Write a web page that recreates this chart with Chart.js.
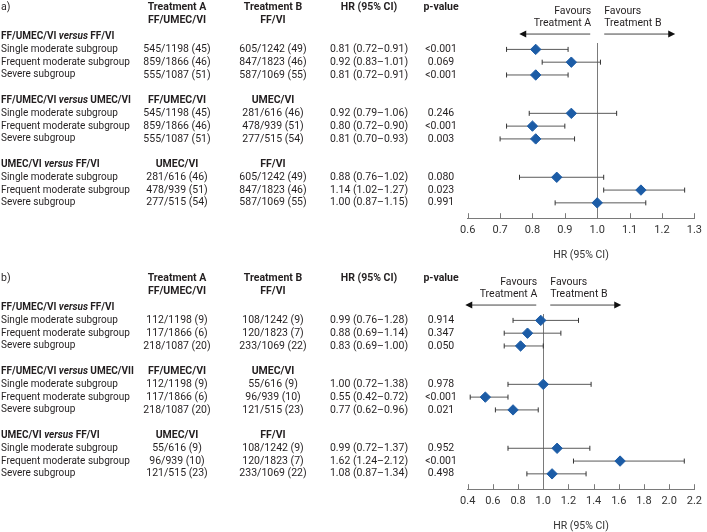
<!DOCTYPE html>
<html><head><meta charset="utf-8">
<script src="https://cdn.jsdelivr.net/npm/chart.js@4.4.0/dist/chart.umd.min.js"></script>
<style>
html,body{margin:0;padding:0;background:#fff;width:707px;height:532px;overflow:hidden;}
.panel{position:absolute;left:0;width:707px;}
</style></head><body>
<div class="panel" style="top:0;height:262px"><canvas id="ca"></canvas></div>
<div class="panel" style="top:271px;height:262px"><canvas id="cb"></canvas></div>
<script>
// ---------- data ----------
const subgroups = ["Single moderate subgroup", "Frequent moderate subgroup", "Severe subgroup"];
const compLeft = ["FF/UMEC/VI", "FF/UMEC/VI", "UMEC/VI"];
const compRightA = ["FF/VI", "UMEC/VI", "FF/VI"];
const compRightB = ["FF/VI", "UMEC/VII", "FF/VI"];
const colHeadA = ["FF/UMEC/VI", "FF/UMEC/VI", "UMEC/VI"];
const colHeadB = ["FF/VI", "UMEC/VI", "FF/VI"];

// panel a
const nTrtA_a = ["545/1198 (45)", "859/1866 (46)", "555/1087 (51)", "545/1198 (45)", "859/1866 (46)", "555/1087 (51)", "281/616 (46)", "478/939 (51)", "277/515 (54)"];
const nTrtB_a = ["605/1242 (49)", "847/1823 (46)", "587/1069 (55)", "281/616 (46)", "478/939 (51)", "277/515 (54)", "605/1242 (49)", "847/1823 (46)", "587/1069 (55)"];
const hr_a = [0.81, 0.92, 0.81, 0.92, 0.80, 0.81, 0.88, 1.14, 1.00];
const lo_a = [0.72, 0.83, 0.72, 0.79, 0.72, 0.70, 0.76, 1.02, 0.87];
const hi_a = [0.91, 1.01, 0.91, 1.06, 0.90, 0.93, 1.02, 1.27, 1.15];
const p_a = ["<0.001", "0.069", "<0.001", "0.246", "<0.001", "0.003", "0.080", "0.023", "0.991"];
const marker_a = [0.81, 0.92, 0.81, 0.92, 0.80, 0.81, 0.875, 1.135, 1.00];
const ticks_a = [0.6, 0.7, 0.8, 0.9, 1.0, 1.1, 1.2, 1.3];

// panel b
const nTrtA_b = ["112/1198 (9)", "117/1866 (6)", "218/1087 (20)", "112/1198 (9)", "117/1866 (6)", "218/1087 (20)", "55/616 (9)", "96/939 (10)", "121/515 (23)"];
const nTrtB_b = ["108/1242 (9)", "120/1823 (7)", "233/1069 (22)", "55/616 (9)", "96/939 (10)", "121/515 (23)", "108/1242 (9)", "120/1823 (7)", "233/1069 (22)"];
const hr_b = [0.99, 0.88, 0.83, 1.00, 0.55, 0.77, 0.99, 1.62, 1.08];
const lo_b = [0.76, 0.69, 0.69, 0.72, 0.42, 0.62, 0.72, 1.24, 0.87];
const hi_b = [1.28, 1.14, 1.00, 1.38, 0.72, 0.96, 1.37, 2.12, 1.34];
const p_b = ["0.914", "0.347", "0.050", "0.978", "<0.001", "0.021", "0.952", "<0.001", "0.498"];
const marker_b = [0.98, 0.875, 0.82, 1.00, 0.54, 0.76, 1.11, 1.61, 1.07];
const ticks_b = [0.4, 0.6, 0.8, 1.0, 1.2, 1.4, 1.6, 1.8, 2.0, 2.2];

// ---------- styling ----------
const FONT = 'Roboto, "Open Sans", sans-serif';
const INK = '#231f20';
const FS = 10.5;       // table numbers / headers
const FSL = 10;        // left label column
const COL = { label: 1, a: 177, b: 273, hr: 369, p: 441 };
const DIAMOND = '#1c5ca6';
const BAR = '#5a5a5a';
const AXIS = '#7a7a7a';

function rowIndex(i) { return 1 + Math.floor(i / 3) * 5 + (i % 3); }
function fmt(v) { return v.toFixed(2); }

function font(weight, size, style) { return `${style || 'normal'} ${weight} ${size}px ${FONT}`; }

function drawText(ctx, t, x, y, align, f) {
  ctx.font = f; ctx.textAlign = align; ctx.fillText(t, x, y);
}
function drawRich(ctx, parts, x, y) {
  ctx.textAlign = 'left';
  let cx = x;
  for (const [t, f] of parts) { ctx.font = f; ctx.fillText(t, cx, y); cx += ctx.measureText(t).width; }
}

const tablePlugin = {
  id: 'tablePlugin',
  afterDraw(chart, args, o) {
    const P = o.panel;
    const ctx = chart.ctx, ys = chart.scales.y, xs = chart.scales.x;
    const Y = v => ys.getPixelForValue(v);
    const B = font(700, FS), N = font(400, FS);
    const BL = font(700, FSL), NL = font(400, FSL), BIL = font(700, FSL, 'italic');
    ctx.save();
    ctx.fillStyle = INK;
    ctx.textBaseline = 'middle';
    drawText(ctx, P.letter, COL.label, Y(-2.25), 'left', N);
    drawText(ctx, 'Treatment A', COL.a, Y(-2.3), 'center', B);
    drawText(ctx, 'Treatment B', COL.b, Y(-2.3), 'center', B);
    drawText(ctx, 'HR (95% CI)', COL.hr, Y(-2.3), 'center', B);
    drawText(ctx, 'p-value', COL.p, Y(-2.3), 'center', B);
    for (let g = 0; g < 3; g++) {
      const hy = Y(g * 5);
      drawRich(ctx, [[compLeft[g], BL], [' versus ', BIL], [P.compRight[g], BL]], COL.label, hy);
      const chy = g === 0 ? Y(-1.25) : hy;
      drawText(ctx, colHeadA[g], COL.a, chy, 'center', B);
      drawText(ctx, colHeadB[g], COL.b, chy, 'center', B);
      for (let s = 0; s < 3; s++) {
        const i = g * 3 + s, y = Y(rowIndex(i));
        drawText(ctx, subgroups[s], COL.label, y, 'left', NL);
        drawText(ctx, P.nA[i], COL.a, y, 'center', N);
        drawText(ctx, P.nB[i], COL.b, y, 'center', N);
        drawText(ctx, `${fmt(P.hr[i])} (${fmt(P.lo[i])}\u2013${fmt(P.hi[i])})`, COL.hr, y, 'center', N);
        drawText(ctx, P.p[i], COL.p, y, 'center', N);
      }
    }
    // favours labels and arrows
    const x1 = xs.getPixelForValue(1);
    drawText(ctx, 'Favours', x1 - 6, Y(-2.0), 'right', N);
    drawText(ctx, 'Treatment A', x1 - 6, Y(-1.0), 'right', N);
    drawText(ctx, 'Favours', x1 + 7, Y(-2.0), 'left', N);
    drawText(ctx, 'Treatment B', x1 + 7, Y(-1.0), 'left', N);
    const ay = Y(-0.2);
    ctx.strokeStyle = '#444'; ctx.lineWidth = 1;
    ctx.beginPath();
    ctx.moveTo(x1 - 7, ay); ctx.lineTo(x1 - 74, ay);
    ctx.moveTo(x1 + 7, ay); ctx.lineTo(x1 + 74, ay);
    ctx.stroke();
    ctx.fillStyle = '#111';
    ctx.beginPath();
    ctx.moveTo(x1 - 78, ay); ctx.lineTo(x1 - 71, ay - 3.5); ctx.lineTo(x1 - 71, ay + 3.5); ctx.closePath();
    ctx.moveTo(x1 + 78, ay); ctx.lineTo(x1 + 71, ay - 3.5); ctx.lineTo(x1 + 71, ay + 3.5); ctx.closePath();
    ctx.fill();
    ctx.restore();
  }
};

const refPlugin = {
  id: 'refPlugin',
  beforeDatasetsDraw(chart) {
    const ctx = chart.ctx, xs = chart.scales.x, a = chart.chartArea;
    ctx.save();
    ctx.strokeStyle = AXIS; ctx.lineWidth = 1;
    const x1 = Math.round(xs.getPixelForValue(1)) + 0.5;
    ctx.beginPath(); ctx.moveTo(x1, a.top); ctx.lineTo(x1, a.bottom); ctx.stroke();
    // inward tick marks
    ctx.beginPath();
    for (const t of xs.ticks) {
      const x = Math.round(xs.getPixelForValue(t.value)) + 0.5;
      ctx.moveTo(x, a.bottom); ctx.lineTo(x, a.bottom - 5);
    }
    ctx.stroke();
    ctx.restore();
  }
};

function makeChart(id, P) {
  const datasets = [];
  for (let i = 0; i < P.hr.length; i++) {
    const r = rowIndex(i);
    datasets.push({
      type: 'scatter', showLine: true,
      data: [{ x: P.lo[i], y: r }, { x: P.hi[i], y: r }],
      borderColor: BAR, borderWidth: 1,
      pointStyle: 'line', pointRotation: 90, pointRadius: 2.5,
      pointBorderColor: '#333', pointBorderWidth: 1, pointHoverRadius: 2.5,
      order: 2
    });
  }
  datasets.push({
    type: 'scatter',
    data: P.marker.map((v, i) => ({ x: v, y: rowIndex(i) })),
    pointStyle: 'rectRot', pointRadius: 5.2, pointHoverRadius: 5.2,
    backgroundColor: DIAMOND, borderColor: DIAMOND, borderWidth: 1,
    order: 1
  });
  return new Chart(document.getElementById(id), {
    type: 'scatter',
    data: { datasets },
    plugins: [refPlugin, tablePlugin],
    options: {
      responsive: true, maintainAspectRatio: false, animation: false,
      layout: { padding: { left: 467.7, right: 8, top: 43, bottom: 0 } },
      plugins: { legend: { display: false }, tooltip: { enabled: false }, tablePlugin: { panel: P } },
      scales: {
        x: {
          type: 'linear', min: P.ticks[0], max: P.ticks[P.ticks.length - 1],
          afterBuildTicks: s => { s.ticks = P.ticks.map(v => ({ value: v })); },
          grid: { display: true, drawOnChartArea: false, drawTicks: false },
          border: { display: true, color: AXIS, width: 1 },
          ticks: { padding: 5, autoSkip: false, maxRotation: 0, color: '#333',
                   font: { family: FONT, size: 11 }, callback: v => Number(v).toFixed(1) },
          title: { display: true, text: 'HR (95% CI)', color: '#333',
                   font: { family: FONT, size: FS }, padding: { top: 8, bottom: 0 } }
        },
        y: { type: 'linear', reverse: true, min: 0.5, max: 14.2, display: false }
      }
    }
  });
}

makeChart('ca', { letter: 'a)', compRight: compRightA, nA: nTrtA_a, nB: nTrtB_a, hr: hr_a, lo: lo_a, hi: hi_a, p: p_a, marker: marker_a, ticks: ticks_a });
makeChart('cb', { letter: 'b)', compRight: compRightB, nA: nTrtA_b, nB: nTrtB_b, hr: hr_b, lo: lo_b, hi: hi_b, p: p_b, marker: marker_b, ticks: ticks_b });
</script>
</body></html>
